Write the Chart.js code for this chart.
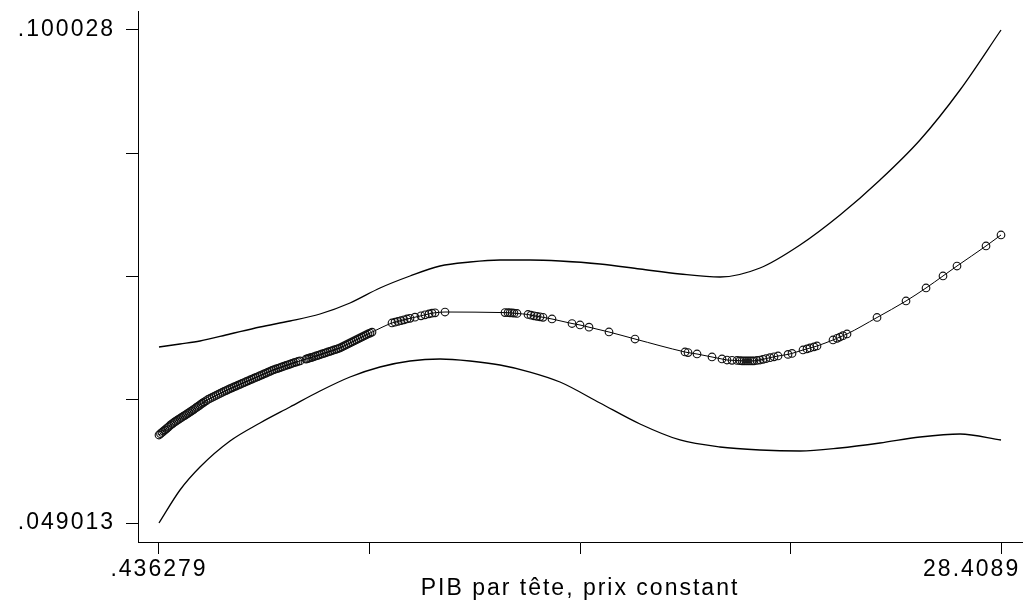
<!DOCTYPE html>
<html>
<head>
<meta charset="utf-8">
<script src="https://cdn.jsdelivr.net/npm/chart.js@4/dist/chart.umd.min.js"></script>
<style>
html,body{margin:0;padding:0;background:#fff;}
canvas{display:block;}
</style>
</head>
<body>
<canvas id="c" width="1028" height="606"></canvas>
<script>
// ---- data ----
const X_TITLE = 'PIB par tête, prix constant';
const X_MIN = -0.261375, X_MAX = 29.106554;
const Y_MIN = 0.047047, Y_MAX = 0.101994;
const xTicks = [0.436279, 7.429434, 14.42259, 21.415745, 28.4089];
const xTickLabels = ['.436279', '', '', '', '28.4089'];
const yTicks = [0.049013, 0.06176675, 0.0745205, 0.08727425, 0.100028];
const yTickLabels = ['.049013', '', '', '', '.100028'];

// confidence band grid
const bandX = [0.436,1.134,1.798,2.795,3.792,4.788,5.785,6.782,7.778,8.775,9.772,10.768,11.765,12.762,13.758,15.087,16.416,17.745,19.074,20.403,21.732,23.061,24.389,25.718,27.047,28.409];
const upperY = [0.067225,0.067536,0.067846,0.068571,0.069295,0.069916,0.070640,0.071779,0.073331,0.074573,0.075607,0.076021,0.076228,0.076228,0.076125,0.075814,0.075297,0.074780,0.074469,0.075400,0.077780,0.080885,0.084507,0.088646,0.093820,0.100028];
const lowerY = [0.049013,0.052428,0.054808,0.057498,0.059361,0.061017,0.062672,0.064121,0.065156,0.065777,0.065984,0.065777,0.065363,0.064638,0.063604,0.061431,0.059258,0.057602,0.056877,0.056567,0.056464,0.056774,0.057291,0.057912,0.058223,0.057602];

// fitted values at observations (line through them)
const fitX = [0.436,0.536,0.636,0.735,0.835,0.935,1.034,1.134,1.234,1.333,1.433,1.533,1.632,1.732,1.832,1.931,2.064,2.197,2.330,2.463,2.596,2.729,2.862,2.994,3.127,3.260,3.393,3.526,3.659,3.792,3.925,4.058,4.190,4.323,4.456,4.589,4.722,4.855,4.988,5.121,5.320,5.420,5.519,5.652,5.785,5.918,6.051,6.184,6.317,6.450,6.582,6.715,6.848,6.981,7.114,7.247,7.380,7.513,
8.177,8.277,8.376,8.476,8.576,8.675,8.775,8.941,9.140,9.273,9.406,9.506,9.606,9.938,
11.931,12.031,12.097,12.164,12.230,12.330,12.695,12.795,12.895,12.994,13.094,13.194,13.492,14.157,14.423,14.722,15.386,16.250,
17.911,18.011,18.310,18.808,19.140,19.306,19.473,19.639,19.738,19.805,19.871,19.938,20.004,20.071,20.137,20.203,20.303,20.403,
20.502,20.602,20.735,20.868,21.001,21.333,21.466,21.831,21.964,22.064,22.197,22.296,22.828,22.961,23.060,23.160,23.293,
24.290,25.253,25.918,26.482,26.947,27.911,28.409];
const fitY = [0.058119,0.058388,0.058647,0.058916,0.059185,0.059423,0.059630,0.059827,0.060034,0.060230,0.060437,0.060644,0.060861,0.061079,0.061306,0.061524,0.061793,0.062000,0.062207,0.062414,0.062621,0.062817,0.063003,0.063179,0.063366,0.063542,0.063718,0.063904,0.064080,0.064256,0.064442,0.064618,0.064804,0.064949,0.065094,0.065239,0.065384,0.065528,0.065663,0.065787,0.065973,0.066067,0.066160,0.066294,0.066429,0.066574,0.066708,0.066843,0.066987,0.067122,0.067329,0.067536,0.067743,0.067950,0.068157,0.068364,0.068571,0.068767,
0.069709,0.069792,0.069875,0.069957,0.070040,0.070123,0.070195,0.070309,0.070454,0.070558,0.070651,0.070723,0.070765,0.070847,
0.070785,0.070775,0.070765,0.070744,0.070723,0.070692,0.070589,0.070516,0.070454,0.070402,0.070351,0.070299,0.070123,0.069657,0.069502,0.069274,0.068778,0.068053,
0.066708,0.066646,0.066501,0.066191,0.065984,0.065880,0.065849,0.065829,0.065808,0.065797,0.065787,0.065777,0.065777,0.065777,0.065787,0.065797,0.065829,0.065880,
0.065953,0.066025,0.066118,0.066211,0.066294,0.066460,0.066563,0.066915,0.067029,0.067122,0.067236,0.067329,0.067950,0.068126,0.068260,0.068395,0.068571,
0.070278,0.071986,0.073331,0.074573,0.075607,0.077677,0.078815];

// further observations packed in the dense low-income cluster
const denseX = [0.486,0.586,0.686,0.785,0.885,0.985,1.084,1.184,1.284,1.383,1.483,1.583,1.682,1.782,1.882,1.998,2.131,2.264,2.397,2.530,2.663,2.796,2.928,3.061,3.194,3.327,3.460,3.593,3.726,3.859,3.992,4.124,4.257,4.390,4.523,4.656,4.789,4.922,5.055,
5.370,5.470,5.586,5.719,5.852,5.985,6.118,6.251,6.384,6.516,6.649,6.782,6.915,7.048,7.181,7.314,7.447];
const denseY = [0.058254,0.058518,0.058782,0.059051,0.059304,0.059527,0.059729,0.059931,0.060132,0.060334,0.060541,0.060753,0.060970,0.061193,0.061415,0.061659,0.061897,0.062104,0.062311,0.062518,0.062719,0.062910,0.063091,0.063273,0.063454,0.063630,0.063811,0.063992,0.064168,0.064349,0.064530,0.064711,0.064877,0.065022,0.065167,0.065312,0.065456,0.065596,0.065725,
0.066020,0.066114,0.066227,0.066362,0.066502,0.066641,0.066776,0.066915,0.067055,0.067226,0.067433,0.067640,0.067847,0.068054,0.068261,0.068468,0.068669];

// ---- build chart ----
const pts = (xs, ys) => xs.map((x, i) => ({x: x, y: ys[i]}));
const FONT = {family: "'Liberation Sans', Arial, sans-serif", size: 23};
const MARK = {pointRadius: 3.8, pointBorderWidth: 1.15, pointBorderColor: '#111', pointBackgroundColor: 'rgba(0,0,0,0)'};

const spacing = {
  id: 'spacing',
  beforeDraw(chart) { chart.ctx.letterSpacing = '2px'; },
  beforeLayout(chart) { chart.ctx.letterSpacing = '2px'; }
};

new Chart(document.getElementById('c'), {
  type: 'line',
  data: {
    datasets: [
      {data: pts(bandX, upperY), borderColor: '#000', borderWidth: 1.3, pointRadius: 0, tension: 0.4, cubicInterpolationMode: 'monotone', fill: false},
      {data: pts(bandX, lowerY), borderColor: '#000', borderWidth: 1.3, pointRadius: 0, tension: 0.4, cubicInterpolationMode: 'monotone', fill: false},
      Object.assign({data: pts(fitX, fitY), borderColor: '#000', borderWidth: 1, tension: 0.4, cubicInterpolationMode: 'monotone', fill: false}, MARK),
      Object.assign({data: pts(denseX, denseY), showLine: false, borderColor: '#000', fill: false}, MARK)
    ]
  },
  options: {
    responsive: false,
    animation: false,
    devicePixelRatio: 1,
    layout: {padding: {top: 11, right: 6, left: 0, bottom: 0}},
    plugins: {legend: {display: false}, tooltip: {enabled: false}},
    scales: {
      x: {
        type: 'linear', min: X_MIN, max: X_MAX,
        afterBuildTicks: s => { s.ticks = xTicks.map(v => ({value: v})); },
        afterFit: s => { s.height = 64; s.paddingLeft = 0; s.paddingRight = 0; s.paddingTop = 0; s.paddingBottom = 0; },
        grid: {drawOnChartArea: false, drawTicks: true, tickLength: 12, color: '#000', lineWidth: 1},
        border: {display: true, color: '#000', width: 1},
        ticks: {
          autoSkip: false, maxRotation: 0, padding: 2, color: '#000', font: FONT,
          callback: (v, i) => i === xTickLabels.length - 1 ? xTickLabels[i] + '       ' : xTickLabels[i]
        },
        title: {display: true, text: X_TITLE, color: '#000', font: FONT, padding: {top: 0, bottom: 4}}
      },
      y: {
        type: 'linear', min: Y_MIN, max: Y_MAX,
        afterBuildTicks: s => { s.ticks = yTicks.map(v => ({value: v})); },
        afterFit: s => { s.width = 138; s.paddingLeft = 0; s.paddingRight = 0; s.paddingTop = 0; s.paddingBottom = 0; },
        grid: {drawOnChartArea: false, drawTicks: true, tickLength: 12, color: '#000', lineWidth: 1},
        border: {display: true, color: '#000', width: 1},
        ticks: {autoSkip: false, padding: 11, color: '#000', font: FONT, callback: (v, i) => yTickLabels[i]}
      }
    }
  },
  plugins: [spacing]
});
</script>
</body>
</html>
